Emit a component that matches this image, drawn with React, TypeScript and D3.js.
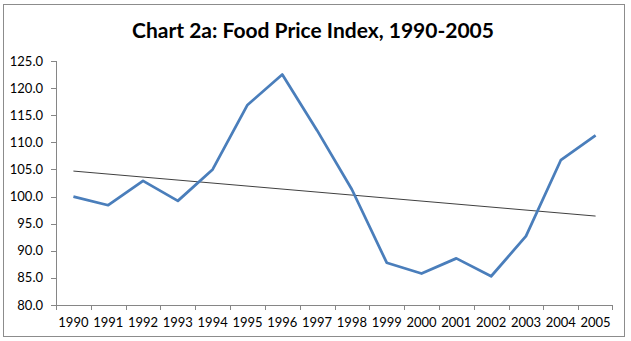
import React from "react";
import * as d3 from "d3";

const years = ["1990","1991","1992","1993","1994","1995","1996","1997","1998","1999","2000","2001","2002","2003","2004","2005"];
const values = [100.0, 98.4, 102.9, 99.2, 105.0, 116.9, 122.5, 112.2, 101.3, 87.8, 85.8, 88.6, 85.3, 92.7, 106.7, 111.3];
// linear trend line values at first and last year
const trendEnds = [104.7, 96.4];
const yTicks = [80, 85, 90, 95, 100, 105, 110, 115, 120, 125];
const title = "Chart 2a: Food Price Index, 1990-2005";

const W = 631, H = 341;
const plot = { left: 56, right: 613, top: 61, bottom: 305 };

export default function App() {
  const x = d3.scaleBand<string>().domain(years).range([plot.left, plot.right]);
  const y = d3.scaleLinear().domain([80, 125]).range([plot.bottom, plot.top]);
  const cx = (d: string) => (x(d) as number) + x.bandwidth() / 2;

  const line = d3.line<number>().x((_, i) => cx(years[i])).y((v) => y(v));
  const n = values.length;

  const font = "Lato, 'Open Sans', sans-serif";
  const axisColor = "#868686";

  return (
    <svg width={W} height={H} style={{ position: "absolute", left: 0, top: 0, background: "#fff" }}>
      <rect x={3.5} y={4.5} width={621} height={332} fill="#fff" stroke="#8c8c8c" strokeWidth={1} />
      <text x={313} y={38} textAnchor="middle" fontFamily={font} fontWeight="bold" fontSize={21} fill="#000">{title}</text>

      {/* y axis */}
      <line x1={plot.left + 0.5} x2={plot.left + 0.5} y1={plot.top} y2={plot.bottom} stroke={axisColor} />
      {yTicks.map((t) => (
        <g key={t}>
          <line x1={plot.left - 5} x2={plot.left} y1={Math.round(y(t)) + 0.5} y2={Math.round(y(t)) + 0.5} stroke={axisColor} />
          <text x={plot.left - 13} y={y(t)} dy="0.35em" textAnchor="end" fontFamily={font} fontSize={13} fill="#000">{t.toFixed(1)}</text>
        </g>
      ))}

      {/* x axis */}
      <line x1={plot.left} x2={plot.right} y1={plot.bottom + 0.5} y2={plot.bottom + 0.5} stroke={axisColor} />
      {years.map((yr) => (
        <line key={"t" + yr} x1={Math.round(x(yr) as number) + 0.5} x2={Math.round(x(yr) as number) + 0.5} y1={plot.bottom} y2={plot.bottom + 5} stroke={axisColor} />
      ))}
      <line x1={plot.right - 0.5} x2={plot.right - 0.5} y1={plot.bottom} y2={plot.bottom + 5} stroke={axisColor} />
      {years.map((yr) => (
        <text key={"l" + yr} x={cx(yr)} y={322} dy="0.35em" textAnchor="middle" fontFamily={font} fontSize={13} fill="#000">{yr}</text>
      ))}

      {/* trend line */}
      <line x1={cx(years[0])} x2={cx(years[n - 1])} y1={y(trendEnds[0])} y2={y(trendEnds[1])} stroke="#404040" strokeWidth={1} />

      {/* data line */}
      <path d={line(values) ?? ""} fill="none" stroke="#4a7ebb" strokeWidth={2.75} strokeLinejoin="round" />
    </svg>
  );
}
